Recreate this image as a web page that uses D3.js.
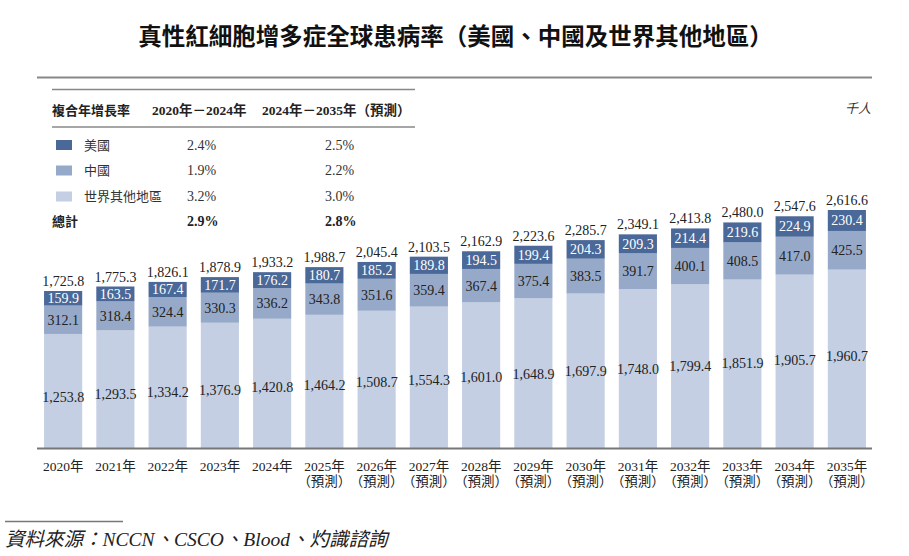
<!DOCTYPE html>
<html>
<head>
<meta charset="utf-8">
<script src="https://cdn.jsdelivr.net/npm/d3@7"></script>
<style>
  body { margin: 0; background: #fff; }
  svg { display: block; }
  .serif { font-family: "Liberation Serif", "Noto Sans CJK TC", serif; }
  .cjk { font-family: "Noto Sans CJK TC", sans-serif; }
</style>
</head>
<body>
<div id="container"></div>
<script>
const years = ["2020","2021","2022","2023","2024","2025","2026","2027","2028","2029","2030","2031","2032","2033","2034","2035"];
const forecastFrom = 5;
const usVals = [159.9,163.5,167.4,171.7,176.2,180.7,185.2,189.8,194.5,199.4,204.3,209.3,214.4,219.6,224.9,230.4];
const chinaVals = [312.1,318.4,324.4,330.3,336.2,343.8,351.6,359.4,367.4,375.4,383.5,391.7,400.1,408.5,417.0,425.5];
const restVals = [1253.8,1293.5,1334.2,1376.9,1420.8,1464.2,1508.7,1554.3,1601.0,1648.9,1697.9,1748.0,1799.4,1851.9,1905.7,1960.7];
const totals = [1725.8,1775.3,1826.1,1878.9,1933.2,1988.7,2045.4,2103.5,2162.9,2223.6,2285.7,2349.1,2413.8,2480.0,2547.6,2616.6];

const seriesNames = ["美國","中國","世界其他地區"];
const cagrA = ["2.4%","1.9%","3.2%"];
const cagrB = ["2.5%","2.2%","3.0%"];
const totalCagr = ["2.9%","2.8%"];

const w = 909, h = 556;
const colors = {us: "#4a6898", china: "#97a9c9", rest: "#c4cfe3"};
const textCol = "#222";

const svg = d3.select("#container").append("svg")
  .attr("width", w).attr("height", h);

// title
svg.append("text")
  .attr("class", "cjk")
  .attr("x", w/2 + 1).attr("y", 45)
  .attr("text-anchor", "middle")
  .attr("font-size", 23.5).attr("font-weight", "bold")
  .attr("fill", "#111")
  .text("真性紅細胞增多症全球患病率（美國、中國及世界其他地區）");

// top rule
svg.append("line").attr("x1", 37).attr("x2", 872).attr("y1", 77.5).attr("y2", 77.5)
  .attr("stroke", "#888").attr("stroke-width", 2);

const rows = years.map((y, i) => ({year: y, us: usVals[i], china: chinaVals[i], rest: restVals[i], total: totals[i]}));
const stack = d3.stack().keys(["rest", "china", "us"])(rows);

const xScale = d3.scaleBand().domain(years).range([37, 873]).paddingInner(0.27).paddingOuter(0.135);
const yScale = d3.scaleLinear().domain([0, 2616.6]).range([448, 210]);

const layers = svg.selectAll("g.layer").data(stack).enter().append("g")
  .attr("class", "layer")
  .attr("fill", d => colors[d.key]);

layers.selectAll("rect").data(d => d).enter().append("rect")
  .attr("x", d => xScale(d.data.year))
  .attr("y", d => yScale(d[1]))
  .attr("width", xScale.bandwidth())
  .attr("height", d => yScale(d[0]) - yScale(d[1]));

// segment labels
stack.forEach(layer => {
  svg.append("g").selectAll("text").data(layer).enter().append("text")
    .attr("class", "serif")
    .attr("x", d => xScale(d.data.year) + xScale.bandwidth()/2)
    .attr("y", d => {
      let mid = (yScale(d[0]) + yScale(d[1]))/2;
      if (layer.key === "rest") mid = mid + 20 - (yScale(0) - yScale(d[1])) * 0.125;
      return mid;
    })
    .attr("dy", "0.35em")
    .attr("text-anchor", "middle")
    .attr("font-size", 14)
    .attr("fill", layer.key === "us" ? "#fff" : textCol)
    .text(d => d3.format(",.1f")(d.data[layer.key]));
});

// totals
svg.append("g").selectAll("text").data(rows).enter().append("text")
  .attr("class", "serif")
  .attr("x", d => xScale(d.year) + xScale.bandwidth()/2)
  .attr("y", d => yScale(d.total) - 5)
  .attr("text-anchor", "middle")
  .attr("font-size", 14)
  .attr("fill", textCol)
  .text(d => d3.format(",.1f")(d.total));

// x axis
const xAxis = d3.axisBottom(xScale).tickSize(0).tickFormat("");
const xg = svg.append("g").attr("transform", "translate(0,448)").call(xAxis);
xg.select(".domain").remove();
svg.append("line").attr("x1", 37).attr("x2", 872).attr("y1", 448.5).attr("y2", 448.5)
  .attr("stroke", "#777").attr("stroke-width", 2);

const yearLabels = svg.append("g").selectAll("text").data(years).enter().append("text")
  .attr("class", "serif")
  .attr("x", d => xScale(d) + xScale.bandwidth()/2)
  .attr("y", 471)
  .attr("text-anchor", "middle")
  .attr("font-size", 13.5)
  .attr("fill", textCol);
yearLabels.append("tspan").text(d => d + "年");
yearLabels.filter((d, i) => i >= forecastFrom).append("tspan")
  .attr("x", d => xScale(d) + xScale.bandwidth()/2)
  .attr("dy", 15)
  .text("（預測）");

// unit
svg.append("text").attr("class", "cjk")
  .attr("x", 871).attr("y", 113).attr("text-anchor", "end")
  .attr("font-size", 13).attr("font-style", "italic").attr("fill", "#333")
  .text("千人");

// CAGR table
const tbl = svg.append("g");
tbl.append("line").attr("x1", 52).attr("x2", 415).attr("y1", 89.5).attr("y2", 89.5)
  .attr("stroke", "#888").attr("stroke-width", 1.5);
tbl.append("line").attr("x1", 52).attr("x2", 415).attr("y1", 127).attr("y2", 127)
  .attr("stroke", "#888").attr("stroke-width", 1.5);
tbl.append("text").attr("class", "cjk").attr("x", 52).attr("y", 115)
  .attr("font-size", 13).attr("font-weight", "bold").attr("fill", textCol)
  .text("複合年增長率");
tbl.append("text").attr("class", "serif").attr("x", 152).attr("y", 115)
  .attr("font-size", 13.5).attr("font-weight", "bold").attr("fill", textCol)
  .text("2020年－2024年");
tbl.append("text").attr("class", "serif").attr("x", 262).attr("y", 115)
  .attr("font-size", 13.5).attr("font-weight", "bold").attr("fill", textCol)
  .text("2024年－2035年（預測）");

const legendKeys = ["us", "china", "rest"];
const rowY = [145, 170.5, 196.5];
seriesNames.forEach((name, i) => {
  tbl.append("rect").attr("x", 56).attr("y", rowY[i] - 5).attr("width", 16).attr("height", 10)
    .attr("fill", colors[legendKeys[i]]);
  tbl.append("text").attr("class", "cjk").attr("x", 84).attr("y", rowY[i]).attr("dy", "0.35em")
    .attr("font-size", 13).attr("fill", "#333").text(name);
  tbl.append("text").attr("class", "serif").attr("x", 187).attr("y", rowY[i]).attr("dy", "0.35em")
    .attr("font-size", 14).attr("fill", "#333").text(cagrA[i]);
  tbl.append("text").attr("class", "serif").attr("x", 325).attr("y", rowY[i]).attr("dy", "0.35em")
    .attr("font-size", 14).attr("fill", "#333").text(cagrB[i]);
});
tbl.append("text").attr("class", "cjk").attr("x", 52).attr("y", 221).attr("dy", "0.35em")
  .attr("font-size", 13).attr("font-weight", "bold").attr("fill", textCol).text("總計");
tbl.append("text").attr("class", "serif").attr("x", 187).attr("y", 221).attr("dy", "0.35em")
  .attr("font-size", 14).attr("font-weight", "bold").attr("fill", textCol).text(totalCagr[0]);
tbl.append("text").attr("class", "serif").attr("x", 325).attr("y", 221).attr("dy", "0.35em")
  .attr("font-size", 14).attr("font-weight", "bold").attr("fill", textCol).text(totalCagr[1]);

// source
svg.append("line").attr("x1", 5).attr("x2", 123).attr("y1", 521.5).attr("y2", 521.5)
  .attr("stroke", "#777").attr("stroke-width", 1.5);
svg.append("text").attr("class", "serif")
  .attr("x", 5).attr("y", 546)
  .attr("font-size", 19.5).attr("font-style", "italic").attr("fill", "#222")
  .text("資料來源：NCCN、CSCO、Blood、灼識諮詢");
</script>
</body>
</html>
